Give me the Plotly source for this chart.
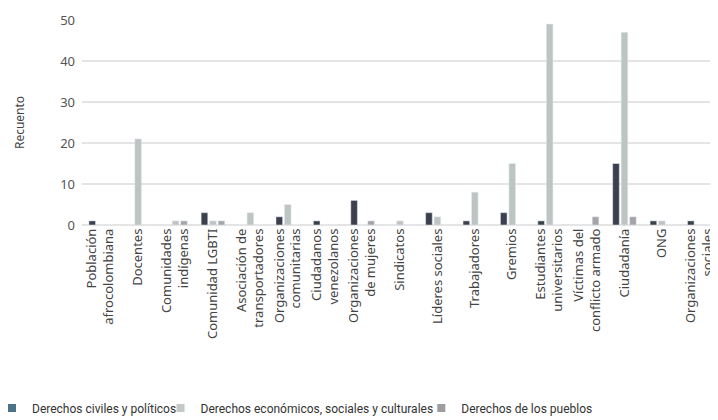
import plotly.graph_objects as go

categories = ["Población<br>afrocolombiana", "Docentes", "Comunidades<br>indígenas", "Comunidad LGBTI",
              "Asociación de<br>transportadores", "Organizaciones<br>comunitarias", "Ciudadanos<br>venezolanos",
              "Organizaciones<br>de mujeres", "Sindicatos", "Líderes sociales", "Trabajadores", "Gremios",
              "Estudiantes<br>universitarios", "Víctimas del<br>conflicto armado", "Ciudadanía", "ONG",
              "Organizaciones<br>sociales"]
civiles = [1, 0, 0, 3, 0, 2, 1, 6, 0, 3, 1, 3, 1, 0, 15, 1, 1]
economicos = [0, 21, 1, 1, 3, 5, 0, 0, 1, 2, 8, 15, 49, 0, 47, 1, 0]
pueblos = [0, 0, 1, 1, 0, 0, 0, 1, 0, 0, 0, 0, 0, 2, 2, 0, 0]
series_names = ["Derechos civiles y políticos", "Derechos económicos, sociales y culturales",
                "Derechos de los pueblos"]
y_ticks = [0, 10, 20, 30, 40, 50]

bar_colors = ["#3c3f4e", "#bec4c2", "#a4a4a9"]
legend_colors = ["#4b7486", "#c4c9c7", "#9c9ca1"]

fig = go.Figure()
for vals, name, col in zip([civiles, economicos, pueblos], series_names, bar_colors):
    fig.add_trace(go.Bar(x=categories, y=vals, name=name, marker_color=col, showlegend=False))

legend_keys = ["legend", "legend2", "legend3"]
for name, col, lk in zip(series_names, legend_colors, legend_keys):
    fig.add_trace(go.Scatter(x=[None], y=[None], mode="markers", name=name,
                             marker=dict(symbol="square", size=8, color=col), legend=lk))

font_family = "Noto Sans, sans-serif"
leg_font = dict(family="Roboto, sans-serif", size=12, color="#333")
leg_common = dict(orientation="h", xref="paper", yref="container", y=0.029, yanchor="middle",
                  xanchor="left", font=leg_font, bgcolor="rgba(0,0,0,0)", borderwidth=0)

fig.update_layout(
    width=710, height=412,
    margin=dict(l=74, r=0, t=12, b=195, autoexpand=False),
    paper_bgcolor="white", plot_bgcolor="white",
    barmode="group", bargap=0.32, bargroupgap=0.22,
    font=dict(family=font_family, color="#555"),
    legend=dict(x=-0.1415, **leg_common),
    legend2=dict(x=0.1235, **leg_common),
    legend3=dict(x=0.5335, **leg_common),
    xaxis=dict(tickangle=-90, tickfont=dict(size=13, color="#444"), showgrid=False,
               showline=False, ticks=""),
    yaxis=dict(range=[0, 50], tickvals=y_ticks, tickfont=dict(size=13, color="#555"),
               gridcolor="#e4e4e4", gridwidth=1.5, zeroline=True, zerolinecolor="#e4e4e4",
               zerolinewidth=1.5, ticklabelstandoff=6,
               title=dict(text="Recuento", font=dict(size=12, color="#444"), standoff=32)),
)

fig.write_html("out.html")
